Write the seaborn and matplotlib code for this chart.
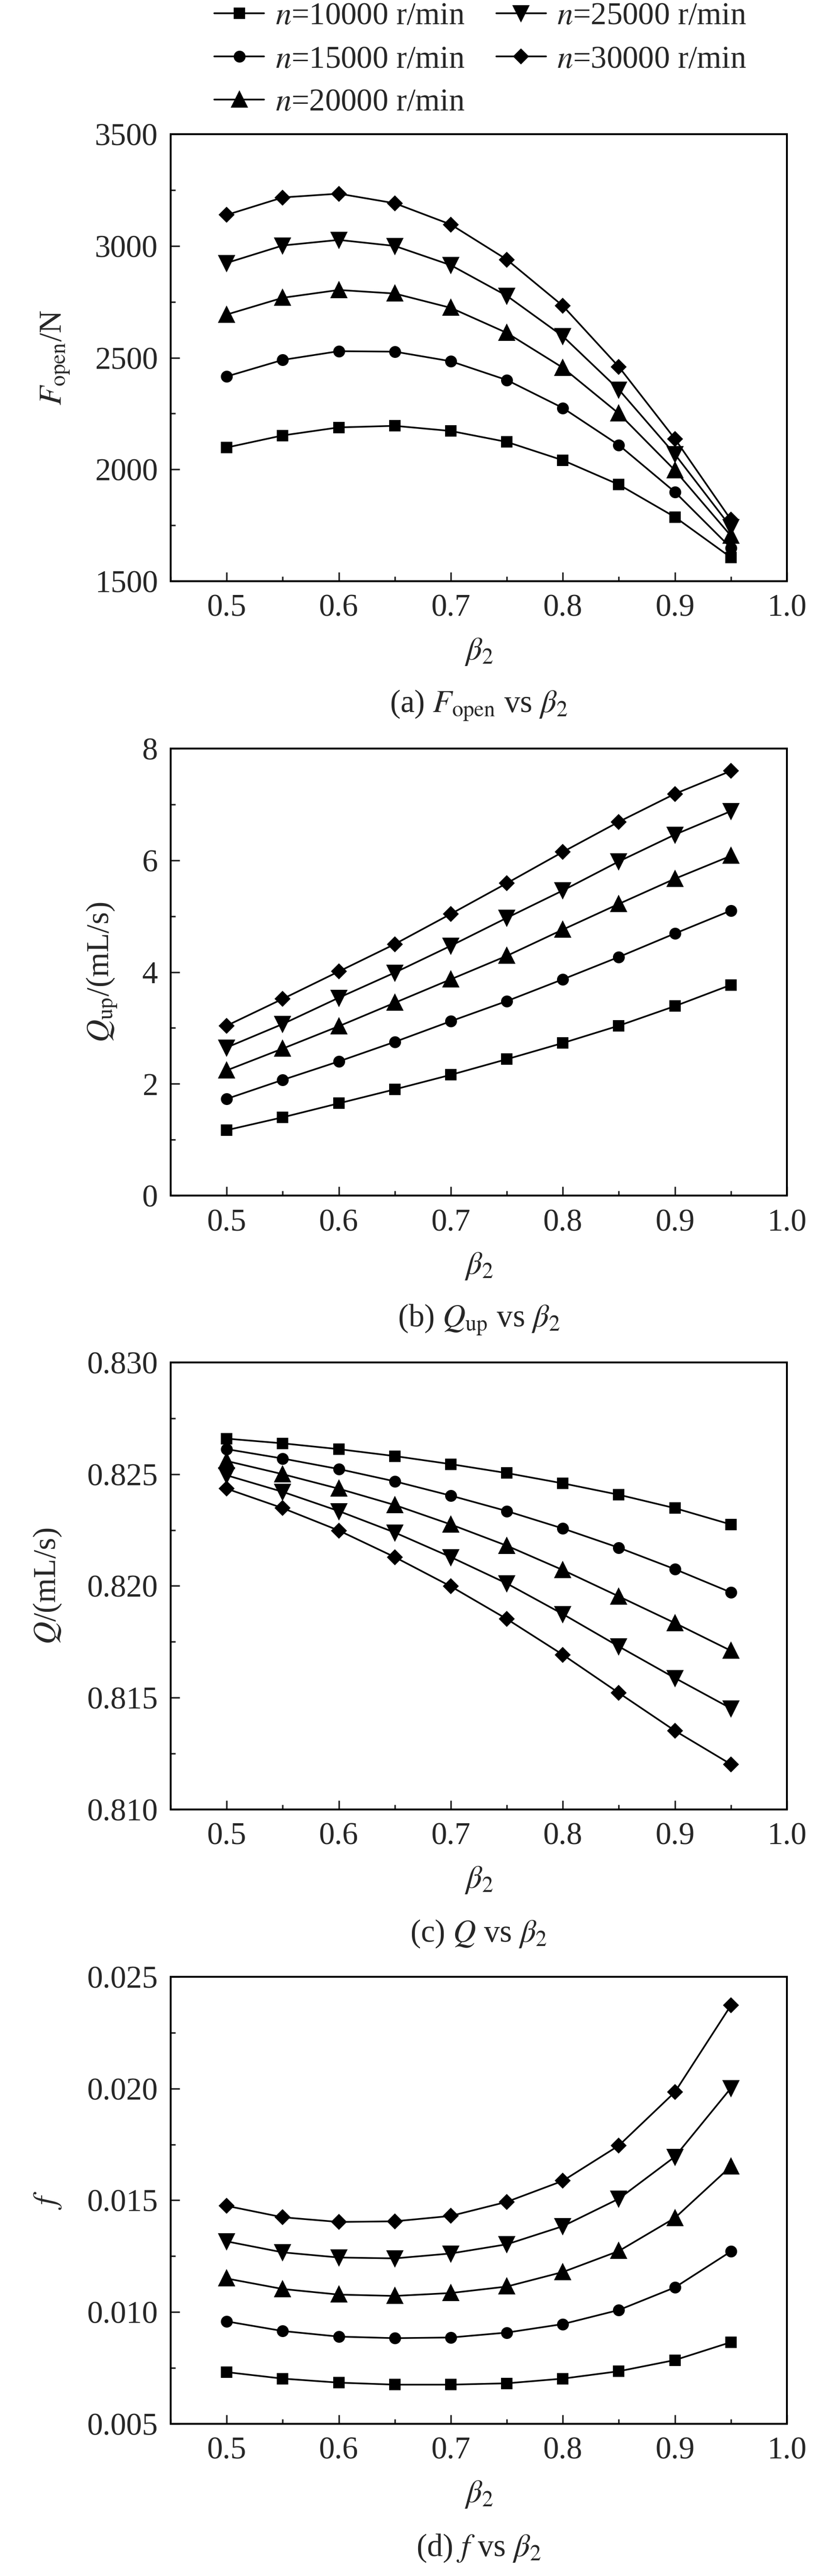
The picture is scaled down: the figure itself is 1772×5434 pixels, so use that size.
import numpy as np
import pandas as pd
import matplotlib
matplotlib.use("Agg")
import matplotlib.pyplot as plt
from matplotlib.ticker import MultipleLocator
import seaborn as sns

sns.set_style("ticks")
plt.rcParams['font.family'] = ['Liberation Serif', 'DejaVu Serif']
plt.rcParams['mathtext.fontset'] = 'stix'
plt.rcParams['font.size'] = 16

# data
beta2 = [0.5, 0.55, 0.6, 0.65, 0.7, 0.75, 0.8, 0.85, 0.9, 0.95]
speeds = ["10000", "15000", "20000", "25000", "30000"]
markers = ["s", "o", "^", "v", "D"]
msizes = [4.9, 5.0, 7, 7, 4.7]

F_open = {
    "10000": [2098, 2152, 2188, 2195, 2172, 2123, 2041, 1932, 1787, 1606],
    "15000": [2416, 2490, 2529, 2527, 2484, 2400, 2275, 2109, 1899, 1649],
    "20000": [2693, 2768, 2803, 2787, 2723, 2611, 2455, 2250, 1996, 1703],
    "25000": [2924, 3002, 3027, 3000, 2914, 2777, 2596, 2357, 2068, 1742],
    "30000": [3139, 3217, 3234, 3191, 3096, 2939, 2732, 2459, 2137, 1775],
}
Q_up = {
    "10000": [1.17, 1.40, 1.65, 1.90, 2.16, 2.44, 2.73, 3.04, 3.39, 3.77],
    "15000": [1.73, 2.07, 2.40, 2.75, 3.12, 3.48, 3.87, 4.27, 4.69, 5.10],
    "20000": [2.24, 2.63, 3.03, 3.45, 3.87, 4.29, 4.76, 5.22, 5.67, 6.08],
    "25000": [2.65, 3.07, 3.54, 3.99, 4.47, 4.97, 5.46, 5.98, 6.46, 6.88],
    "30000": [3.04, 3.52, 4.01, 4.50, 5.04, 5.59, 6.15, 6.69, 7.19, 7.60],
}
Q = {
    "10000": [0.82659, 0.82638, 0.82612, 0.82581, 0.82545, 0.82505, 0.82459, 0.82408, 0.82348, 0.82275],
    "15000": [0.82612, 0.82570, 0.82523, 0.82468, 0.82404, 0.82335, 0.82257, 0.82171, 0.82075, 0.81971],
    "20000": [0.82559, 0.82500, 0.82435, 0.82362, 0.82275, 0.82180, 0.82071, 0.81953, 0.81834, 0.81710],
    "25000": [0.82495, 0.82421, 0.82335, 0.82239, 0.82129, 0.82011, 0.81874, 0.81729, 0.81588, 0.81452],
    "30000": [0.82435, 0.82348, 0.82248, 0.82129, 0.81998, 0.81852, 0.81692, 0.81521, 0.81352, 0.81202],
}
f = {
    "10000": [0.00731, 0.00702, 0.00684, 0.00675, 0.00675, 0.00681, 0.00702, 0.00735, 0.00785, 0.00865],
    "15000": [0.00958, 0.00915, 0.00890, 0.00883, 0.00886, 0.00908, 0.00946, 0.01009, 0.01110, 0.01271],
    "20000": [0.01150, 0.01103, 0.01078, 0.01072, 0.01085, 0.01114, 0.01179, 0.01273, 0.01421, 0.01652],
    "25000": [0.01316, 0.01267, 0.01244, 0.01240, 0.01262, 0.01303, 0.01384, 0.01507, 0.01695, 0.02002],
    "30000": [0.01475, 0.01424, 0.01403, 0.01406, 0.01430, 0.01493, 0.01587, 0.01745, 0.01984, 0.02372],
}

panels = [
    (F_open, r"$F_{\mathrm{open}}$/N", r"(a) $F_{\mathrm{open}}$ vs $\beta_2$", (1500, 3500), 500),
    (Q_up, r"$Q_{\mathrm{up}}$/(mL/s)", r"(b) $Q_{\mathrm{up}}$ vs $\beta_2$", (0, 8), 2),
    (Q, r"$Q$/(mL/s)", r"(c) $Q$ vs $\beta_2$", (0.810, 0.830), 0.005),
    (f, r"$f$", r"(d) $f$ vs $\beta_2$", (0.005, 0.025), 0.005),
]
fmts = ["{:.0f}", "{:.0f}", "{:.3f}", "{:.3f}"]

fig = plt.figure(figsize=(1772 / 300, 5434 / 300), dpi=300)
bottoms = [0.7744, 0.5359, 0.2976, 0.0591]

for i, (data, ylab, cap, ylim, step) in enumerate(panels):
    ax = fig.add_axes([0.2032, bottoms[i], 0.7336, 0.1735])
    for s, m, ms in zip(speeds, markers, msizes):
        df = pd.DataFrame({"beta": beta2, "val": data[s]})
        sns.lineplot(data=df, x="beta", y="val", ax=ax, color="k", marker=m,
                     markersize=ms, markeredgecolor="k", markeredgewidth=1.0,
                     linewidth=0.85, label=f"$n$=" + s + " r/min", legend=False)
    ax.set_xlim(0.45, 1.0)
    ax.set_ylim(*ylim)
    ax.xaxis.set_minor_locator(MultipleLocator(0.05))
    ax.yaxis.set_minor_locator(MultipleLocator(step / 2))
    xt = np.arange(0.5, 1.01, 0.1)
    ax.set_xticks(xt)
    ax.set_xticklabels(["{:.1f}".format(v) for v in xt])
    yt = np.arange(ylim[0], ylim[1] + step / 2, step)
    ax.set_yticks(yt)
    ax.set_yticklabels([fmts[i].format(v) for v in yt])
    ax.tick_params(which="both", direction="in", top=False, right=False, width=0.8)
    ax.tick_params(which="major", length=4.6, pad=6.5)
    ax.tick_params(which="minor", length=2.4)
    for sp in ax.spines.values():
        sp.set_linewidth(0.95)
        sp.set_color("k")
    ax.set_xlabel(r"$\beta_2$", labelpad=7)
    ax.set_ylabel(ylab, labelpad=12)
    ax.text(0.5, -0.278, cap, transform=ax.transAxes, ha="center", va="center")
    if i == 0:
        handles, labels = ax.get_legend_handles_labels()

fig.legend(handles, labels, ncol=2, loc="upper left", bbox_to_anchor=(452 / 1772, 1 - 4 / 5434),
           frameon=False, borderpad=0, borderaxespad=0, handlelength=1.58, handletextpad=0.35,
           columnspacing=1.0, labelspacing=0.45)

fig.savefig("out.png", dpi=300)
